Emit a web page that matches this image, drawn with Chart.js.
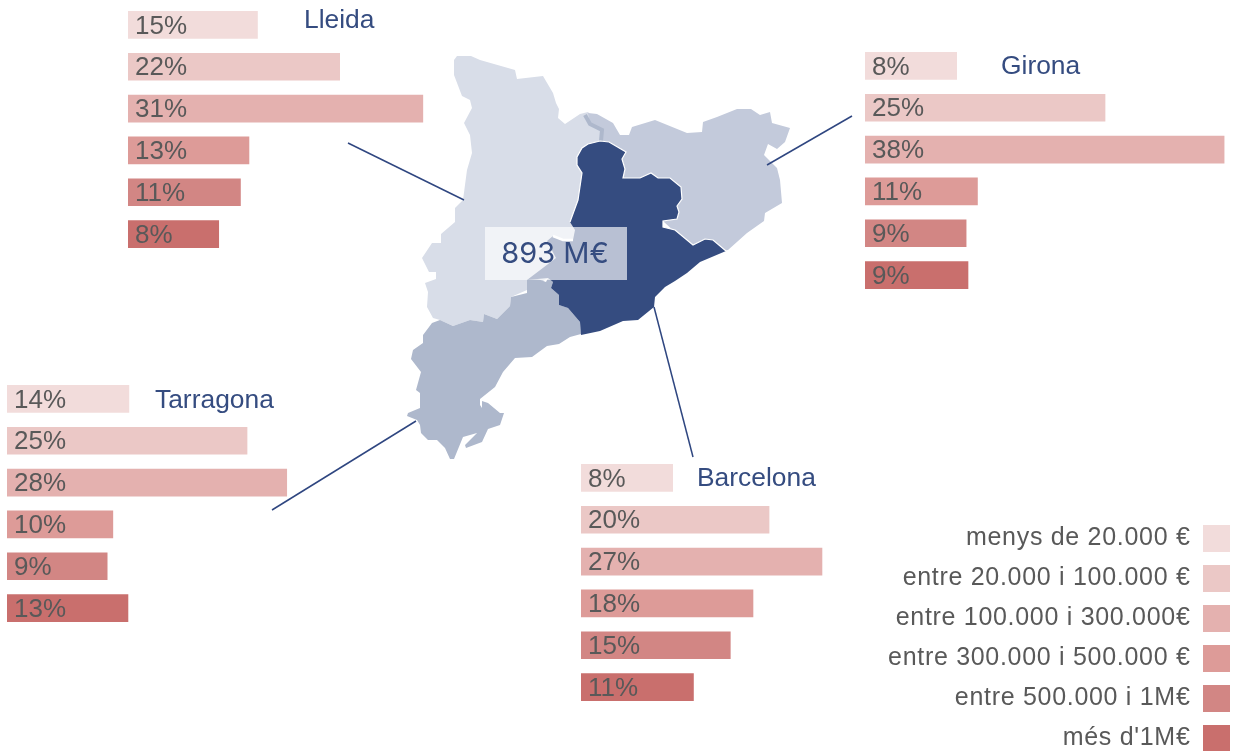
<!DOCTYPE html>
<html><head><meta charset="utf-8">
<script src="https://cdn.jsdelivr.net/npm/chart.js@4"></script>
<style>
html,body{margin:0;padding:0;background:#fff;overflow:hidden;width:1238px;height:751px}
.box{position:absolute}
</style></head><body>
<div class="box" style="left:0;top:0;width:1238px;height:751px"><canvas id="map"></canvas></div>
<div class="box" style="left:128px;top:4px;width:378px;height:251px"><canvas id="lleida"></canvas></div>
<div class="box" style="left:865px;top:45px;width:373px;height:251px"><canvas id="girona"></canvas></div>
<div class="box" style="left:7px;top:378px;width:378px;height:251px"><canvas id="tarragona"></canvas></div>
<div class="box" style="left:581px;top:457px;width:300px;height:251px"><canvas id="barcelona"></canvas></div>
<div class="box" style="left:843px;top:512px;width:400px;height:280px"><canvas id="legend"></canvas></div>
<script>
const categories = ['menys de 20.000 €','entre 20.000 i 100.000 €','entre 100.000 i 300.000€','entre 300.000 i 500.000 €','entre 500.000 i 1M€',"més d'1M€"];
const binColors = ['#f2dcdb','#ebc8c6','#e4b1af','#dd9b98','#d28684','#c96f6d'];
// printed percentages
const lleidaShares    = [15,22,31,13,11,8];
const gironaShares    = [8,25,38,11,9,9];
const tarragonaShares = [14,25,28,10,9,13];
const barcelonaShares = [8,20,27,18,15,11];
// bar lengths as drawn in the picture, in percent units (not strictly equal to the printed share)
const lleidaBars    = [13.7,22.4,31.2,12.8,11.9,9.6];
const gironaBars    = [9.7,25.4,38,11.9,10.7,10.9];
const tarragonaBars = [12.9,25.4,29.6,11.2,10.6,12.8];
const barcelonaBars = [9.7,19.9,25.5,18.2,15.8,11.9];
const totalLabel = '893 M€';
// map outlines, in picture coordinates
const lleidaShape = [[457,56],[471,56],[480,60],[515,70],[517,79],[543,76],[553,93],[556,103],[559,109],[558,118],[565,124],[580,114],[588,112],[600,125],[600,145],[590,200],[580,260],[527,290],[511,297],[510,306],[497,319],[484,314],[483,322],[470,320],[453,326],[440,320],[433,318],[427,307],[428,292],[425,283],[436,279],[436,272],[429,272],[422,258],[432,243],[441,243],[441,234],[455,222],[455,208],[463,200],[467,170],[472,153],[470,135],[464,123],[472,108],[470,100],[462,96],[454,75],[454,60]];
const gironaShape = [[588,113],[597,114],[613,123],[620,135],[629,135],[632,127],[655,120],[687,133],[702,132],[703,122],[717,117],[737,109],[751,109],[760,115],[770,112],[772,123],[790,128],[785,142],[777,149],[768,144],[764,155],[777,168],[780,180],[782,203],[765,213],[764,221],[747,233],[728,250],[700,255],[640,200],[600,145],[602,130],[590,124]];
const tarragonaShape = [[432,323],[440,320],[453,326],[470,320],[483,322],[484,314],[497,319],[510,306],[511,297],[527,293],[527,280],[535,278],[546,282],[548,278],[553,282],[551,288],[559,295],[559,305],[568,308],[580,322],[581,334],[570,337],[559,344],[547,346],[532,357],[515,358],[503,372],[495,387],[480,399],[480,405],[482,408],[482,401],[488,403],[500,413],[504,413],[500,425],[488,429],[482,442],[466,448],[465,445],[477,433],[463,437],[454,459],[450,459],[445,448],[437,440],[428,440],[421,433],[420,425],[417,420],[407,416],[408,413],[420,408],[420,393],[416,390],[421,372],[411,359],[413,350],[423,343],[423,335]];
const barcelonaShape = [[582,148],[588,144],[600,141],[609,142],[626,152],[622,159],[625,169],[623,178],[640,178],[651,173],[658,178],[670,178],[681,187],[682,199],[677,206],[679,212],[677,219],[663,221],[663,227],[675,230],[693,245],[705,239],[713,240],[726,251],[700,262],[687,273],[675,281],[665,287],[655,297],[654,307],[638,320],[623,321],[600,331],[581,335],[580,322],[568,308],[559,305],[559,295],[551,288],[553,282],[548,278],[527,280],[556,258],[547,241],[553,236],[563,240],[573,240],[575,230],[570,222],[578,200],[582,173],[577,165],[577,157]];
const seamNorth = [[570,222],[578,200],[582,173],[577,165],[577,157],[582,148],[588,144],[600,141],[609,142],[626,152],[622,159],[625,169],[623,178],[640,178],[651,173],[658,178],[670,178],[681,187],[682,199],[677,206],[679,212],[677,219],[663,221],[663,227],[675,230],[693,245],[705,239],[713,240],[726,251]];
const seamBox = [[553,236],[563,240],[573,240]];
const riverLine = [[585,115],[590,124],[602,130],[601,141]];
const totalBox = [[485,227],[627,227],[627,280],[485,280]];
const leaderLleida = [[348,143],[464,200]];
const leaderGirona = [[767,165],[852,116]];
const leaderBarcelona = [[654,307],[693,457]];
const leaderTarragona = [[416,421],[272,510]];

Chart.defaults.animation = false;
Chart.defaults.responsive = true;
Chart.defaults.maintainAspectRatio = false;
Chart.defaults.devicePixelRatio = 1;

const pts = a => a.map(p => ({x:p[0], y:p[1]}));
const poly = (a, c) => ({data:pts(a.concat([a[0]])), showLine:true, fill:'shape', backgroundColor:c, borderColor:c, borderWidth:0, pointRadius:0, tension:0});
const stroke = (a, c, w) => ({data:pts(a), showLine:true, fill:false, borderColor:c, borderWidth:w, pointRadius:0, tension:0});
const LINE = '#2f4680', BLUE='#354c80', GREY='#595959';
const FONT = '"Liberation Sans", Arial, sans-serif';

new Chart(document.getElementById('map'), {
  type:'scatter',
  data:{datasets:[
    stroke(leaderTarragona,LINE,1.5),
    stroke(leaderBarcelona,LINE,1.5),
    stroke(leaderGirona,LINE,1.5),
    stroke(leaderLleida,LINE,1.5),
    poly(totalBox,'rgba(255,255,255,0.65)'),
    stroke(seamBox,'#ffffff',2.5),
    stroke(seamNorth,'#ffffff',1.2),
    poly(barcelonaShape,BLUE),
    poly(tarragonaShape,'#aeb8cc'),
    stroke(riverLine,'#aeb8cc',4),
    poly(gironaShape,'#c3cadb'),
    poly(lleidaShape,'#d8dde8')
  ]},
  options:{
    layout:{padding:0},
    scales:{x:{type:'linear',min:0,max:1238,display:false},y:{type:'linear',min:0,max:751,reverse:true,display:false}},
    plugins:{legend:{display:false},tooltip:{enabled:false}}
  },
  plugins:[{id:'total',afterDraw(c){
    const g=c.ctx; g.save(); g.font='29px Inter, sans-serif'; g.fillStyle=BLUE; g.textAlign='center'; g.textBaseline='middle';
    g.fillText(totalLabel,c.scales.x.getPixelForValue(555),c.scales.y.getPixelForValue(254)); g.restore();
  }}]
});

const PX_PER_PCT = 9.45;
function barChart(id, name, bars, shares, titleX, titleY){
  const el=document.getElementById(id);
  const w=el.parentNode.clientWidth;
  new Chart(el,{
    type:'bar',
    data:{labels:categories,datasets:[{data:bars,backgroundColor:binColors,barThickness:27,borderWidth:0}]},
    options:{
      indexAxis:'y',
      layout:{padding:0},
      scales:{x:{type:'linear',min:0,max:w/PX_PER_PCT,display:false},y:{type:'category',display:false}},
      plugins:{legend:{display:false},tooltip:{enabled:false}}
    },
    plugins:[{id:'labels',afterDraw(c){
      const g=c.ctx; g.save(); g.textBaseline='middle'; g.textAlign='left';
      g.font='26px '+FONT; g.fillStyle=GREY;
      c.getDatasetMeta(0).data.forEach((b,i)=>g.fillText(shares[i]+'%',c.scales.x.getPixelForValue(0)+7,b.y+1.5));
      g.font='26.4px '+FONT; g.fillStyle=BLUE;
      g.fillText(name,titleX,titleY);
      g.restore();
    }}]
  });
}
barChart('lleida','Lleida',lleidaBars,lleidaShares,176,17);
barChart('girona','Girona',gironaBars,gironaShares,136,22);
barChart('tarragona','Tarragona',tarragonaBars,tarragonaShares,148,23);
barChart('barcelona','Barcelona',barcelonaBars,barcelonaShares,116,22);

new Chart(document.getElementById('legend'),{
  type:'bar',
  data:{labels:categories,datasets:[{data:[],backgroundColor:binColors}]},
  options:{
    layout:{padding:0},
    scales:{x:{display:false},y:{display:false}},
    plugins:{tooltip:{enabled:false},legend:{
      display:true,position:'right',align:'start',rtl:true,textDirection:'ltr',maxWidth:400,
      labels:{boxWidth:27,boxHeight:27,padding:13,color:GREY,font:{family:'"Liberation Sans"',size:25},
        generateLabels:()=>categories.map((t,i)=>({text:t,fillStyle:binColors[i],strokeStyle:'rgba(0,0,0,0)',lineWidth:0,hidden:false,index:i,fontColor:GREY}))}
    }}
  },
  plugins:[{id:'spacing',
    beforeLayout(c){c.ctx.letterSpacing='0.7px';},
    beforeDraw(c){c.ctx.letterSpacing='0.7px';}}]
});
</script></body></html>
